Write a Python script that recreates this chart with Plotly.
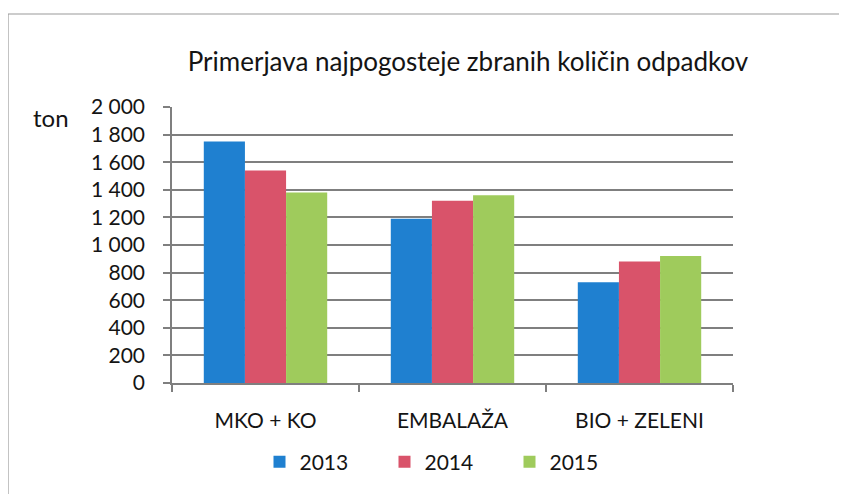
import plotly.graph_objects as go

categories = ["MKO + KO", "EMBALAŽA", "BIO + ZELENI"]
years = ["2013", "2014", "2015"]
values_2013 = [1750, 1190, 730]
values_2014 = [1540, 1320, 880]
values_2015 = [1380, 1360, 920]
y_tickvals = [0, 200, 400, 600, 800, 1000, 1200, 1400, 1600, 1800, 2000]
y_ticktext = ["0", "200", "400", "600", "800", "1 000", "1 200", "1 400", "1 600", "1 800", "2 000"]
title_text = "Primerjava najpogosteje zbranih količin odpadkov"
unit_text = "ton"

colors = ["#1f80d0", "#d9536a", "#9fcb5c"]
series = [values_2013, values_2014, values_2015]

FONT = "Lato"
TXT = "#141414"
GRID = "#7f7f7f"
OFF = 8  # default body margin of the html page
W, H = 847 - OFF, 494 - OFF
L, R, T, B = 172 - OFF, 847 - 733, 107 - OFF, 494 - 383
PW, PH = W - L - R, H - T - B


def px_x(sx):
    return (sx - OFF - L) / PW


def px_y(sy):
    return (H - B - (sy - OFF)) / PH


fig = go.Figure()
for name, vals, c in zip(years, series, colors):
    fig.add_trace(go.Bar(x=categories, y=vals, name=name, marker=dict(color=c, line=dict(width=0))))

fig.update_layout(
    width=W, height=H,
    margin=dict(l=L, r=R, t=T, b=B),
    paper_bgcolor="white", plot_bgcolor="white",
    barmode="group", bargap=0.34, bargroupgap=0,
    font=dict(family=FONT, color=TXT),
    title=dict(text=title_text, x=(468 - OFF) / W, xanchor="center", y=1 - (62 - OFF) / H, yanchor="middle",
               font=dict(family=FONT, size=26, color=TXT)),
    showlegend=True,
    legend=dict(orientation="h", x=px_x(447), xanchor="center", y=px_y(462), yanchor="middle",
                font=dict(family=FONT, size=21, color=TXT),
                entrywidth=80, itemsizing="constant", traceorder="normal"),
)

fig.update_yaxes(range=[0, 2000], tickvals=y_tickvals, ticktext=y_ticktext,
                 showgrid=True, gridcolor=GRID, gridwidth=1.5,
                 showline=True, linecolor=GRID, linewidth=1.5,
                 ticks="outside", ticklen=7, tickcolor=GRID, tickwidth=1.5,
                 ticklabelstandoff=14,
                 tickfont=dict(family=FONT, size=21, color=TXT), zeroline=False)
fig.update_xaxes(showline=True, linecolor=GRID, linewidth=1.5,
                 ticks="outside", tickson="boundaries", ticklen=7, tickcolor=GRID, tickwidth=1.5,
                 ticklabelstandoff=18,
                 tickfont=dict(family=FONT, size=21, color=TXT))

fig.add_annotation(text=unit_text, xref="paper", yref="paper", x=px_x(51), y=px_y(118),
                   showarrow=False, xanchor="center", yanchor="middle",
                   font=dict(family=FONT, size=24, color=TXT))

# outer frame lines (left and top)
bx = px_x(8)
by = px_y(14)
fig.add_shape(type="line", xref="paper", yref="paper", x0=bx, x1=bx, y0=by, y1=-0.6,
              line=dict(color="#9a9a9a", width=1.2))
fig.add_shape(type="line", xref="paper", yref="paper", x0=bx, x1=1.3, y0=by, y1=by,
              line=dict(color="#9a9a9a", width=1.2))

fig.write_html("out.html")
